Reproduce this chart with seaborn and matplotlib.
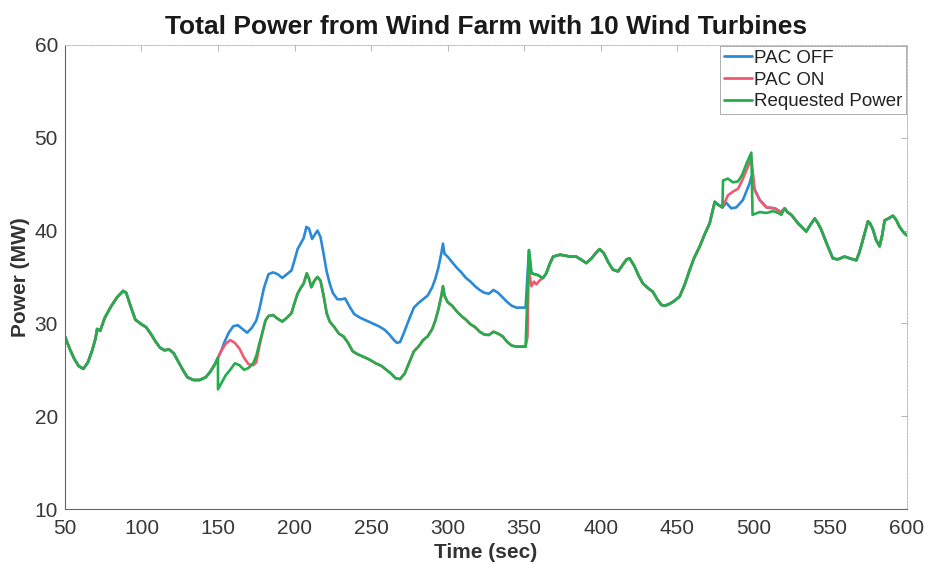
import matplotlib
matplotlib.use('Agg')
import matplotlib.pyplot as plt
import seaborn as sns
import pandas as pd

# ---- data (time in sec, power in MW) ----
# 50-150 s: all three curves identical
t_shared_a = [50, 53, 56, 59, 62, 65, 68, 70, 71, 73, 76, 80, 84, 88, 90, 93, 96, 100,
              103, 106, 109, 112, 115, 118, 121, 124, 127, 130, 134, 138, 142, 145, 148, 150]
p_shared_a = [28.6, 27.3, 26.2, 25.4, 25.1, 25.8, 27.2, 28.4, 29.4, 29.2, 30.6, 31.8, 32.8, 33.5,
              33.3, 31.8, 30.4, 29.9, 29.6, 28.9, 28.1, 27.4, 27.1, 27.2, 26.8, 25.9, 25.0, 24.2,
              23.9, 23.9, 24.2, 24.8, 25.6, 26.3]

# 150-178 s: requested power and PAC ON differ
t_req_b = [150, 152, 155, 158, 161, 164, 167, 170, 173, 175, 177]
p_req_b = [22.9, 23.5, 24.4, 25.0, 25.7, 25.5, 25.0, 25.2, 25.7, 26.5, 27.8]
t_on_b = [150, 152, 155, 158, 161, 164, 167, 170, 173, 175, 177]
p_on_b = [26.3, 27.0, 27.8, 28.2, 27.9, 27.3, 26.3, 25.6, 25.5, 25.8, 27.5]

# 179-351 s: PAC ON follows requested power
t_shared_mid = [179, 181, 183, 186, 189, 192, 195, 198, 200, 202, 204, 206, 208, 209.5, 211, 213,
                215, 217, 219, 221, 223, 226, 229, 232, 235, 238, 241, 245, 249, 253, 257, 260,
                263, 266, 269, 272, 275, 278, 281, 284, 287, 290, 292, 294, 296, 297, 298, 300,
                303, 306, 309, 312, 315, 318, 321, 324, 327, 330, 333, 336, 339, 342, 345, 349, 351]
p_shared_mid = [29.0, 30.3, 30.8, 30.9, 30.5, 30.2, 30.6, 31.1, 32.2, 33.2, 33.8, 34.3, 35.4, 34.8,
                33.9, 34.6, 35.0, 34.6, 33.0, 31.1, 30.2, 29.6, 28.9, 28.6, 27.9, 27.0, 26.7, 26.4,
                26.1, 25.7, 25.4, 25.0, 24.6, 24.1, 24.0, 24.6, 25.8, 27.0, 27.5, 28.2, 28.6, 29.4,
                30.3, 31.5, 33.0, 34.0, 33.0, 32.3, 31.9, 31.3, 30.8, 30.4, 29.9, 29.6, 29.1, 28.8,
                28.75, 29.1, 28.9, 28.6, 28.0, 27.6, 27.5, 27.5, 27.5]

# 150-351 s: PAC OFF
t_off_b = [150, 152, 154, 157, 160, 163, 166, 169, 172, 175, 177, 180, 183, 186, 189, 192, 195,
           198, 200, 202, 204, 206, 207.8, 209.5, 211.5, 213, 215, 217, 219, 221, 223, 225, 228,
           231, 233, 236, 239, 243, 247, 251, 255, 259, 262, 265, 267, 269, 272, 275, 278, 281,
           284, 287, 290, 292, 294, 296, 297, 298, 300, 303, 306, 309, 312, 315, 318, 321, 324,
           327, 330, 333, 336, 339, 342, 345, 349, 351]
p_off_b = [26.3, 27.0, 27.9, 29.0, 29.7, 29.8, 29.4, 29.0, 29.5, 30.3, 31.5, 33.8, 35.3, 35.5,
           35.3, 34.9, 35.3, 35.7, 36.8, 38.0, 38.6, 39.2, 40.4, 40.2, 39.1, 39.5, 40.0, 39.3,
           37.5, 35.6, 34.3, 33.3, 32.6, 32.6, 32.7, 31.8, 31.0, 30.6, 30.3, 30.0, 29.7, 29.3,
           28.8, 28.2, 27.9, 28.0, 29.2, 30.5, 31.7, 32.2, 32.6, 33.0, 33.9, 34.8, 36.0, 37.6,
           38.6, 37.5, 37.2, 36.6, 36.0, 35.5, 34.9, 34.5, 34.0, 33.6, 33.3, 33.2, 33.6, 33.3,
           32.8, 32.3, 31.9, 31.7, 31.7, 31.7]

# step at ~352 s
t_req_jump = [353.2, 354.8, 357, 359.1, 361]
p_req_jump = [37.9, 35.4, 35.3, 35.2, 35.0]
t_on_jump = [352.2, 353.0, 354.8, 356.5, 358, 360]
p_on_jump = [28.5, 35.9, 34.0, 34.5, 34.2, 34.6]
t_off_jump = [353.2, 354.8, 357, 359.1, 361]
p_off_jump = [37.9, 35.4, 35.3, 35.2, 35.0]

# 362-480 s: all identical
t_shared_c = [362.4, 364.5, 367, 369, 373.4, 377, 380, 384, 387, 390.7, 394, 397, 399.4, 402, 405,
              408, 411.4, 414, 417, 419, 422, 425, 427.7, 431, 434.2, 437, 439.7, 442, 445, 448,
              451.7, 455, 458.2, 461, 464.8, 468, 471.3, 473, 474.6, 476.7, 479.6]
p_shared_c = [34.9, 35.4, 36.5, 37.2, 37.4, 37.3, 37.2, 37.2, 36.9, 36.5, 37.0, 37.6, 38.0, 37.6,
              36.6, 35.8, 35.6, 36.2, 36.9, 37.0, 36.2, 35.1, 34.3, 33.8, 33.4, 32.6, 32.0, 31.9,
              32.1, 32.4, 32.9, 34.2, 35.75, 37.0, 38.3, 39.6, 40.8, 42.0, 43.1, 42.8, 42.5]

# 480-520 s: second event
t_req_d = [480.0, 483.2, 486.5, 489.8, 492.5, 495.3, 498.5, 499.3, 504, 508.4, 512.7, 516, 518.1, 520.3]
p_req_d = [45.4, 45.6, 45.2, 45.3, 46.0, 47.2, 48.4, 41.7, 42.0, 41.9, 42.1, 41.9, 41.7, 42.4]
t_on_d = [481, 483.2, 486.5, 489.8, 492.5, 495.3, 498.5, 500.7, 504, 508.4, 513.8, 518, 520.3]
p_on_d = [43.0, 43.8, 44.2, 44.5, 45.4, 46.5, 47.8, 44.4, 43.3, 42.5, 42.4, 42.0, 42.4]
t_off_d = [482.1, 485.4, 488.7, 493, 497.4, 498.5, 500.7, 504, 508.4, 513.8, 518, 520.3]
p_off_d = [43.0, 42.4, 42.5, 43.3, 45.1, 45.8, 44.4, 43.3, 42.5, 42.4, 42.0, 42.4]

# 522-600 s: all identical
t_shared_e = [522, 524.6, 527, 529, 532, 534.4, 537, 539.9, 542, 544.2, 548, 551.8, 555, 559.4,
              563, 567.1, 569, 571.4, 574.7, 576, 578, 580, 582.3, 584, 585.6, 588, 591, 593,
              595.4, 598, 600]
p_shared_e = [42.0, 41.7, 41.2, 40.8, 40.3, 39.9, 40.6, 41.3, 40.8, 40.1, 38.5, 37.0, 36.9, 37.2,
              37.0, 36.8, 37.6, 39.0, 41.0, 40.8, 40.1, 39.0, 38.3, 39.5, 41.1, 41.3, 41.6, 41.2,
              40.4, 39.8, 39.5]

series_names = ['PAC OFF', 'PAC ON', 'Requested Power']
series_colors = ['#2b8ad6', '#ef5a72', '#24ad4c']

t_off = t_shared_a + t_off_b + t_off_jump + t_shared_c + t_off_d + t_shared_e
p_off = p_shared_a + p_off_b + p_off_jump + p_shared_c + p_off_d + p_shared_e
t_on = t_shared_a + t_on_b + t_shared_mid + t_on_jump + t_shared_c + t_on_d + t_shared_e
p_on = p_shared_a + p_on_b + p_shared_mid + p_on_jump + p_shared_c + p_on_d + p_shared_e
t_req = t_shared_a + t_req_b + t_shared_mid + t_req_jump + t_shared_c + t_req_d + t_shared_e
p_req = p_shared_a + p_req_b + p_shared_mid + p_req_jump + p_shared_c + p_req_d + p_shared_e

frames = []
for name, t, p in zip(series_names, [t_off, t_on, t_req], [p_off, p_on, p_req]):
    frames.append(pd.DataFrame({'time': t, 'power': p, 'series': name}))
df = pd.concat(frames, ignore_index=True)

sns.set_style('white')
plt.rcParams['font.family'] = ['Liberation Sans', 'DejaVu Sans']

fig = plt.figure(figsize=(9.28, 5.66), dpi=100)
ax = fig.add_axes([0.070, 0.1007, 0.907, 0.8198])

sns.lineplot(data=df, x='time', y='power', hue='series', hue_order=series_names,
             palette=series_colors, sort=False, estimator=None, linewidth=1.9, ax=ax)

ax.set_xlim(50, 600)
ax.set_ylim(10, 60)
ax.set_xticks(range(50, 601, 50))
ax.set_yticks(range(10, 61, 10))
ax.tick_params(axis='both', direction='in', length=4, width=0.6, colors='#aaaaaa',
               labelcolor='#383838', labelsize=15, top=True, right=True, pad=5)
ax.tick_params(axis='x', pad=7)
for side in ['left', 'bottom']:
    ax.spines[side].set_color('#666666')
    ax.spines[side].set_linewidth(0.8)
for side in ['top', 'right']:
    ax.spines[side].set_color('#bbbbbb')
    ax.spines[side].set_linewidth(0.7)
    ax.spines[side].set_linestyle((0, (2, 1.5)))

ax.set_title('Total Power from Wind Farm with 10 Wind Turbines', fontsize=19,
             fontweight='bold', color='#1a1a1a', pad=8)
ax.set_xlabel('Time (sec)', fontsize=15, fontweight='bold', color='#333333', labelpad=4)
ax.set_ylabel('Power (MW)', fontsize=15, fontweight='bold', color='#333333', labelpad=3)

leg = ax.legend(loc='upper right', fontsize=13.5, handlelength=1.5, handletextpad=0.1,
                borderpad=0.2, labelspacing=0.25, frameon=True, fancybox=False,
                borderaxespad=0.05)
leg.get_frame().set_edgecolor('#999999')
leg.get_frame().set_linewidth(0.7)
for line in leg.get_lines():
    line.set_linewidth(2.0)
for txt in leg.get_texts():
    txt.set_color('#222222')

fig.savefig('out.png', dpi=100)
